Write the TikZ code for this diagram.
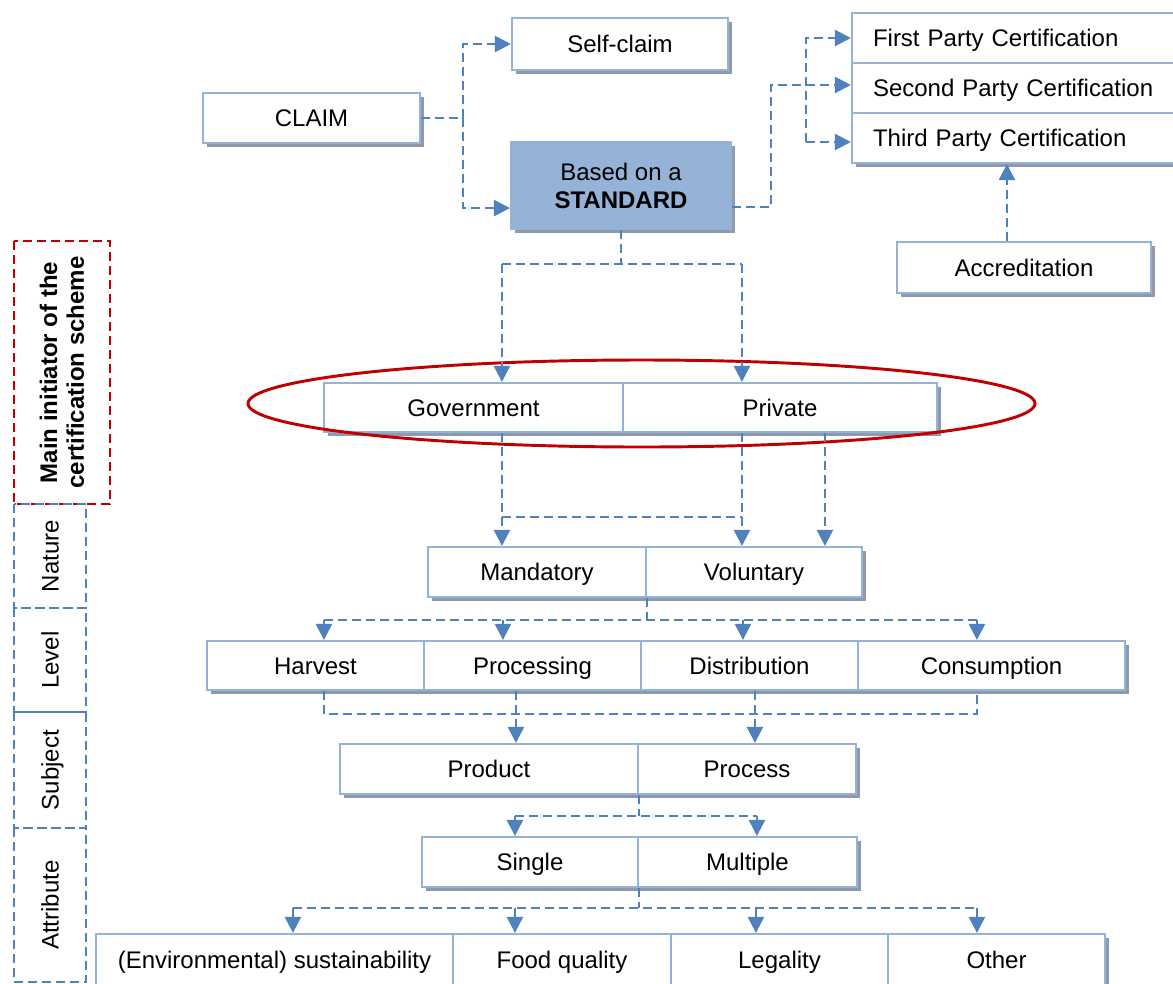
\documentclass[tikz,border=0pt]{standalone}
\usepackage{fontspec}
\setmainfont{Liberation Sans}
\usetikzlibrary{arrows.meta,calc,shadows}
\definecolor{lineblue}{RGB}{79,129,189}
\definecolor{boxblue}{RGB}{149,179,215}
\definecolor{shadowgray}{RGB}{142,154,172}
\definecolor{darkred}{RGB}{192,0,0}

% box from (x1,y1) to (x2,y2) in pixel-like units: [style]{name}{x1}{y1}{x2}{y2}{text}
\newcommand\placebox[7][]{%
  \node[box,#1,minimum width={(#5-#3)*0.75pt},minimum height={(#6-#4)*0.75pt}]
    (#2) at ({(#3+#5)/2},{(#4+#6)/2}) {#7};}
% rotated side label, same arguments
\newcommand\placelabel[7][]{%
  \node[sidelabel,#1,rotate=90,minimum width={(#6-#4)*0.75pt},minimum height={(#5-#3)*0.75pt}]
    (#2) at ({(#3+#5)/2},{(#4+#6)/2}) {#7};}

\begin{document}
\begin{tikzpicture}[x=0.75pt,y=-0.75pt,
  txt/.style={font=\fontsize{18}{21}\selectfont,text height=13pt,text depth=0pt},
  box/.style={txt,draw=boxblue,line width=1.6pt,fill=white,inner sep=0pt,align=center,
    drop shadow={shadow xshift=3pt,shadow yshift=-3pt,fill=shadowgray,opacity=1}},
  stdbox/.style={fill=boxblue,text height=,text depth=},
  certbox/.style={align=left,inner xsep=15.75pt,text width=218.25pt},
  sidelabel/.style={txt,draw=lineblue,line width=1.3pt,dash pattern=on 7pt off 3.5pt,inner sep=0pt,align=center},
  initlabel/.style={draw=darkred,line width=1.6pt,font=\fontsize{18}{20}\selectfont\bfseries,
    text height=,text depth=},
  conn/.style={draw=lineblue,line width=1.7pt,dash pattern=on 6.5pt off 4pt},
  arr/.style={conn,-{Triangle[length=12pt,width=12pt]}},
  ring/.style={draw=darkred,line width=2.2pt}]

\useasboundingbox (0,0) rectangle (1173,983);

% ---- claim and certification boxes
\placebox{self}{512}{18}{728}{70}{Self-claim}
\placebox{claim}{203}{93}{420}{143}{CLAIM}
\placebox[stdbox]{std}{511}{142}{731}{229}{Based on a\\\textbf{STANDARD}}
\placebox[certbox]{first}{852}{13}{1185}{63}{First Party Certification}
\placebox[certbox]{second}{852}{63}{1185}{113}{Second Party Certification}
\placebox[certbox]{third}{852}{113}{1185}{163}{Third Party Certification}
\placebox{acc}{897}{242}{1151}{293}{Accreditation}

% ---- classification rows
\placebox{gov}{324}{383}{623}{432}{Government}
\placebox{priv}{623}{383}{937}{432}{Private}
\placebox{mand}{428}{547}{646}{597}{Mandatory}
\placebox{vol}{646}{547}{862}{597}{Voluntary}
\placebox{harv}{207}{641}{424}{690}{Harvest}
\placebox{proc}{424}{641}{641}{690}{Processing}
\placebox{dist}{641}{641}{858}{690}{Distribution}
\placebox{cons}{858}{641}{1125}{690}{Consumption}
\placebox{prod}{340}{744}{638}{794}{Product}
\placebox{pcs}{638}{744}{856}{794}{Process}
\placebox{single}{422}{837}{638}{887}{Single}
\placebox{multi}{638}{837}{857}{887}{Multiple}
\placebox{env}{96}{934}{453}{985}{(Environmental) sustainability}
\placebox{food}{453}{934}{671}{985}{Food quality}
\placebox{legal}{671}{934}{888}{985}{Legality}
\placebox{other}{888}{934}{1105}{985}{Other}

% ---- side labels
\placelabel[initlabel]{init}{14}{241}{110}{504}{Main initiator of the\\certification scheme}
\placelabel{nature}{14}{504}{86}{608}{Nature}
\placelabel{level}{14}{608}{86}{712}{Level}
\placelabel{subject}{14}{712}{86}{828}{Subject}
\placelabel{attr}{14}{828}{86}{982}{Attribute}

% ---- ring around the initiators
\draw[ring] (641.5,403.5) ellipse [x radius=393.5, y radius=43.5];

% ---- claim branches
\draw[conn] (claim.east) -- ++(42,0) coordinate (cj);
\draw[arr] (cj) |- (self.west);
\draw[arr] (cj) |- ($(std.south west)+(0,-22)$);

% ---- standard to certification
\draw[arr] ($(std.south east)+(0,-23)$) -- ++(39,0) |- ($(second.west)+(0,-3)$);
\draw[arr] ($(third.west)+(-45,4)$) coordinate (tj) |- (first.west);
\draw[arr] (tj) -- ($(third.west)+(0,4)$);
\draw[arr] ($(acc.north west)+(111,0)$) coordinate (aj) -- (aj |- third.south);

% ---- standard to initiators
\draw[conn] (std.south) -- ++(0,34) coordinate (sj);
\coordinate (g1) at ($(gov.north west)+(179,0)$);
\coordinate (p1) at ($(priv.north west)+(120,0)$);
\draw[conn] (g1 |- sj) -- (p1 |- sj);
\draw[arr] (g1 |- sj) -- (g1);
\draw[arr] (p1 |- sj) -- (p1);

% ---- initiators to nature
\coordinate (g2) at ($(gov.south west)+(179,0)$);
\coordinate (p2) at ($(priv.south west)+(120,0)$);
\coordinate (p3) at ($(priv.south west)+(203,0)$);
\draw[arr] (g2) -- (g2 |- mand.north);
\draw[arr] (p2) -- (p2 |- vol.north);
\draw[arr] (p3) -- (p3 |- vol.north);
\draw[conn] ($(g2)+(0,84)$) -- ($(p2)+(0,84)$);

% ---- nature to level
\draw[conn] (mand.south east) -- ++(0,22) coordinate (mj);
\coordinate (h1) at ($(harv.north west)+(118,0)$);
\coordinate (r1) at ($(proc.north west)+(80,0)$);
\coordinate (d1) at ($(dist.north west)+(103,0)$);
\coordinate (c1) at ($(cons.north west)+(120,0)$);
\draw[conn] (h1 |- mj) -- (c1 |- mj);
\foreach \t in {h1,r1,d1,c1} \draw[arr] (\t |- mj) -- (\t);

% ---- level to subject
\coordinate (h2) at ($(harv.south west)+(118,0)$);
\coordinate (c2) at ($(cons.south west)+(120,0)$);
\coordinate (r2) at ($(proc.south west)+(93,0)$);
\coordinate (d2) at ($(dist.south west)+(115,0)$);
\draw[conn] (h2) -- ++(0,23) -| (c2);
\draw[arr] (r2) -- (r2 |- prod.north);
\draw[arr] (d2) -- (d2 |- pcs.north);

% ---- subject to attribute type
\draw[conn] (prod.south east) -- ++(0,21) coordinate (pj);
\coordinate (s1) at ($(single.north west)+(94,0)$);
\coordinate (m1) at ($(multi.north west)+(120,0)$);
\draw[conn] (s1 |- pj) -- (m1 |- pj);
\foreach \t in {s1,m1} \draw[arr] (\t |- pj) -- (\t);

% ---- attribute type to attributes
\draw[conn] (single.south east) -- ++(0,20) coordinate (qj);
\coordinate (e1) at ($(env.north west)+(198,0)$);
\coordinate (f1) at ($(food.north west)+(63,0)$);
\coordinate (l1) at ($(legal.north west)+(86,0)$);
\coordinate (o1) at ($(other.north west)+(90,0)$);
\draw[conn] (e1 |- qj) -- (o1 |- qj);
\foreach \t in {e1,f1,l1,o1} \draw[arr] (\t |- qj) -- (\t);

\end{tikzpicture}
\end{document}
